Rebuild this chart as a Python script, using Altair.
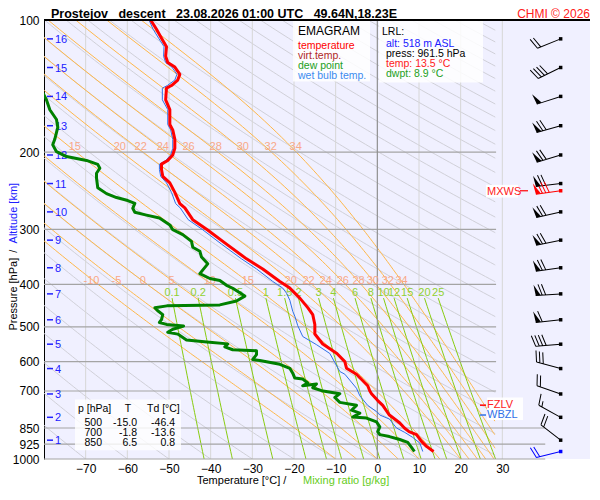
import numpy as np
import pandas as pd
import altair as alt

FONT = "Liberation Sans, Arial, Helvetica, sans-serif"
W, H = 546, 439
PAD = {"left": 36, "top": 12, "right": 1, "bottom": 29}
PXDEG = 500.0 / 120.0
TMIN = -80.0
TMAX = TMIN + W / PXDEG
TCLIP = 28.3

# ---------------- sounding ----------------
temp_p = [100, 105, 110, 115, 121, 125, 128, 133, 137, 141, 143, 152, 160, 173, 178, 187, 196, 203,
          209, 213, 219, 227, 235, 247, 262, 268, 285, 300, 324, 350, 369, 394, 408, 430, 452, 469,
          494, 519, 547, 575, 600, 621, 641, 681, 700, 710, 736, 755, 794, 828, 850, 866, 880, 912,
          936, 961.5]
temp_t = [-54.4, -53.0, -51.8, -50.6, -50.8, -50.3, -48.6, -47.4, -47.9, -49.4, -50.6, -50.8, -49.8,
          -49.8, -49.1, -48.6, -48.6, -49.1, -50.3, -51.8, -51.8, -51.5, -49.8, -48.6, -47.4, -46.2,
          -44.3, -40.9, -36.2, -31.4, -27.5, -23.4, -21.0, -18.6, -16.7, -15.5, -15.0, -15.0, -13.1,
          -9.7, -7.8, -7.4, -5.0, -2.3, -1.8, -1.4, 0.1, 1.3, 2.9, 5.4, 6.5, 7.6, 9.4, 10.6, 11.8, 13.5]

dwpt_p = [145, 152.1, 160.1, 168.5, 175.6, 186.7, 192.5, 199.5, 204.7, 208.9, 213.2, 217.6, 223.4,
          229.1, 241.1, 248.6, 253.8, 257.8, 261.7, 268.5, 274.1, 278.3, 282.6, 292.9, 300.4, 308.2,
          319.4, 329.4, 336.3, 346.7, 359.3, 378.2, 388.0, 392.0, 402.1, 408.4, 425.5, 436.5, 445.6,
          447.9, 452.4, 459.5, 469.0, 481.2, 488.6, 493.6, 498.0, 506.3, 514.2, 519.4, 535.6, 541.2,
          546.7, 555.2, 563.9, 566.7, 578.3, 593.4, 596.4, 608.6, 621.5, 637.6, 654.2, 657.6, 671.2,
          681.3, 674.6, 688.3, 698.9, 709.8, 724.4, 743.0, 754.6, 774.2, 786.2, 802.4, 806.6, 823.3,
          844.7, 866.5, 880.0, 889.1, 902.7, 916.8, 940.5, 961.5]
dwpt_t = [-80.5, -79.4, -78.6, -77.0, -76.7, -77.4, -77.9, -77.0, -74.6, -69.8, -67.1, -66.6, -67.4,
          -67.4, -67.1, -65.0, -62.6, -59.9, -58.2, -58.7, -58.2, -55.4, -52.3, -49.8, -49.1, -46.7,
          -44.6, -44.3, -42.6, -42.2, -40.7, -42.6, -40.2, -37.8, -36.2, -34.7, -31.8, -33.8, -37.8,
          -50.5, -53.4, -52.7, -51.5, -51.8, -52.3, -50.6, -46.5, -49.1, -50.3, -47.9, -45.8, -40.9,
          -35.9, -36.6, -34.7, -29.0, -29.0, -29.9, -28.2, -23.4, -21.0, -20.3, -19.8, -17.9, -16.7,
          -17.9, -14.6, -15.5, -13.4, -9.0, -10.2, -9.0, -5.0, -6.2, -4.2, -5.9, -2.6, -0.2,
          0.6, 0.1, 0.6, 2.9, 5.4, 7.3, 8.2, 8.9]

wetb_p = [100, 105, 110, 115, 121, 125, 128, 133, 137, 141, 143, 152, 160, 173, 178, 187, 196, 203,
          209, 213, 219, 227, 235, 247, 262, 268, 285, 300, 324, 350, 369, 394, 408, 419, 435, 461,
          473, 497, 526, 549, 575, 632, 641, 690, 718, 755, 780, 794, 811, 850, 870, 893, 920, 961.5]
wetb_t = [-54.8, -53.8, -52.5, -51.2, -51.3, -50.8, -49.3, -48.1, -48.6, -50.4, -51.6, -51.6, -50.3,
          -50.3, -49.6, -49.1, -49.1, -49.6, -50.8, -52.3, -52.3, -52.0, -50.6, -49.4, -48.4, -47.3,
          -45.4, -42.0, -37.4, -32.6, -29.0, -25.1, -22.7, -21.8, -21.0, -20.3, -19.8, -19.1, -17.9,
          -14.6, -11.4, -9.0, -7.8, -5.0, -4.2, -2.3, -0.2, 0.6, 2.9, 4.6, 6.6, 8.5, 10.2, 10.9]

# altitude levels [km] with their pressures, and winds there
alt_km = list(range(1, 17))
alt_p = [906.0, 803.6, 711.0, 622.3, 547.6, 481.8, 420.6, 366.8, 317.3, 273.6, 235.8, 203.0,
         174.1, 149.3, 128.3, 110.4]
wind_dir = [308, 299, 289, 285, 265, 264, 266, 262, 258, 257, 263, 253, 254, 252, 244, 248]
wind_spd = [20, 15, 20, 30, 40, 60, 70, 70, 70, 70, 70, 70, 70, 50, 40, 20]
sfc_p, sfc_dir, sfc_spd = 961.5, 256, 20
mxws_p, mxws_dir, mxws_spd = 244.9, 262, 80
fzlv_p, wbzl_p = 754.0, 794.0
BARB_T = 44.0

# ---------------- diagram reference lines ----------------
iso_t = [-70, -60, -50, -40, -30, -20, -10, 10, 20, 30]
plev = [200, 300, 400, 500, 600, 700, 850, 925, 1000]
plev_end = [28.5, 28.5, 28.5, 28.5, 28.5, 28.5, 40.3, 40.3, 40.3]
ylab = [100, 200, 300, 400, 500, 600, 700, 850, 925, 1000]
xlab = [-70, -60, -50, -40, -30, -20, -10, 0, 10, 20, 30]
theta_c = list(range(-80, 320, 10))
thetaw = [-10, -5, 0, 5, 10, 15, 20, 22, 24, 26, 28, 30, 32, 34]
mixr = [0.1, 0.2, 0.5, 1, 1.5, 2, 3, 4, 6, 8, 10, 12, 15, 20, 25]
mixr_lab = ["0.1", "0.2", "0.5", "1", "1.5", "2", "3", "4", "6", "8", "10", "12", "15", "20", "25"]
lab400 = ["-10", "-5", "0", "5", "10", "15", "20", "22", "24", "26", "28", "30", "32", "34"]
lab400_t = [-68.6, -62.6, -56.3, -49.4, -40.2, -31.1, -20.8, -16.5, -12.4, -8.3, -4.5, -1.1, 2.5, 5.8]
lab200 = ["15", "20", "22", "24", "26", "28", "30", "32", "34"]
lab200_t = [-72.6, -61.8, -56.8, -51.5, -45.3, -38.8, -32.3, -25.6, -19.6]

TITLE = "Prostejov\u00a0\u00a0\u00a0descent\u00a0\u00a0\u00a023.08.2026 01:00 UTC\u00a0\u00a0\u00a049.64N,18.23E"

# ---------------- helpers ----------------
xs = alt.Scale(domain=[TMIN, TMAX], nice=False, zero=False)
ys = alt.Scale(type="log", domain=[100, 1000], reverse=True, nice=False)
xaxis = alt.Axis(values=xlab, title=None, domain=False, ticks=False, tickSize=0, grid=False,
                 labelFontSize=12, labelPadding=4, labelColor="black", labelFont=FONT,
                 labelOverlap=False)
yaxis = alt.Axis(values=ylab, title=None, domain=True, domainColor="black", domainWidth=1,
                 ticks=False, tickSize=0, grid=False, labelFontSize=12, labelPadding=5,
                 labelColor="black", labelFont=FONT, format="d", labelOverlap=False)


def Xq(f):
    return alt.X(f, type="quantitative", scale=xs, axis=xaxis)


def Yq(f):
    return alt.Y(f, type="quantitative", scale=ys, axis=yaxis)


def py(yref):
    return (yref - 15.0) * H / 450.0


def px(xref):
    return xref - 44.0


def note(s, x, y, color="black", size=11, align="left", weight="normal", angle=0,
         baseline="middle"):
    return alt.Chart(pd.DataFrame({"s": [s]})).mark_text(
        align=align, baseline=baseline, fontSize=size, color=color, font=FONT,
        fontWeight=weight, angle=angle).encode(x=alt.value(x), y=alt.value(y), text="s:N")


def box(x1, y1, x2, y2, op=0.85):
    return alt.Chart(pd.DataFrame({"a": [0]})).mark_rect(color="white", opacity=op).encode(
        x=alt.value(x1), x2=alt.value(x2), y=alt.value(y1), y2=alt.value(y2))


def es(tc):
    return 6.112 * np.exp(17.67 * tc / (tc + 243.5))


def dTdp(tk, p):
    Rd, cp, L, eps = 287.04, 1005.7, 2.501e6, 0.622
    e = es(tk - 273.15)
    rs = eps * e / (p - e)
    return (Rd * tk + L * rs) / (p * (cp + L * L * rs * eps / (Rd * tk * tk)))


# dry adiabats
rows = []
pg = np.geomspace(100, 1000, 220)
for th in theta_c:
    thk = th + 273.15
    tt = thk * (pg / 1000.0) ** 0.2857 - 273.15
    keep = tt <= TCLIP
    pp, tk = list(pg[keep]), list(tt[keep])
    pb = 1000.0 * ((TCLIP + 273.15) / thk) ** (1 / 0.2857)
    if 100 < pb < 1000:
        pp.append(pb)
        tk.append(TCLIP)
    for a, b in sorted(zip(pp, tk)):
        rows.append((th, a, b))
df_dry = pd.DataFrame(rows, columns=["g", "p", "T"])

# pseudo-adiabats
rows = []
for tw in thetaw:
    tk, p, dp = tw + 273.15, 1000.0, -5.0
    while p > 100.0 - 1e-6:
        if tk - 273.15 <= TCLIP:
            rows.append((tw, p, tk - 273.15))
        k1 = dTdp(tk, p)
        k2 = dTdp(tk + 0.5 * dp * k1, p + 0.5 * dp)
        k3 = dTdp(tk + 0.5 * dp * k2, p + 0.5 * dp)
        k4 = dTdp(tk + dp * k3, p + dp)
        tk += dp * (k1 + 2 * k2 + 2 * k3 + k4) / 6.0
        p += dp
df_moist = pd.DataFrame(rows, columns=["g", "p", "T"])


def t_mix(w, p):
    e = w * p / (622.0 + w)
    a = np.log(e / 6.112)
    return 243.5 * a / (17.67 - a)


rows = []
for w in mixr:
    for p in np.linspace(430, 1000, 30):
        rows.append((w, p, t_mix(w, p)))
df_mix = pd.DataFrame(rows, columns=["g", "p", "T"])
df_mixlab = pd.DataFrame({"p": [419.0] * len(mixr), "T": [t_mix(w, 430.0) for w in mixr],
                          "s": mixr_lab})


def barb_paths(spd):
    n50 = spd // 50
    n10 = (spd - 50 * n50) // 10
    n5 = 1 if spd - 50 * n50 - 10 * n10 >= 5 else 0
    line, flag, pos = "M0,0L-1,0", "", -1.0
    for _ in range(n50):
        flag += f"M{pos:.3f},0L{pos - 0.06:.3f},-0.44L{pos + 0.2:.3f},0Z"
        pos += 0.26
    if n50 == 0 and n10 == 0:
        pos += 0.14
    for _ in range(n10):
        line += f"M{pos:.3f},0L{pos - 0.14:.3f},-0.44"
        pos += 0.14
    if n5:
        line += f"M{pos:.3f},0L{pos - 0.07:.3f},-0.22"
    return line, flag


brow = []
for p, d, s in zip(alt_p, wind_dir, wind_spd):
    brow.append((p, d, s, "black"))
brow.append((mxws_p, mxws_dir, mxws_spd, "#ff0000"))
brow.append((sfc_p, sfc_dir, sfc_spd, "#0000ff"))
df_barb = pd.DataFrame(brow, columns=["p", "d", "s", "col"])
df_barb["T"] = BARB_T
df_barb["rot"] = (df_barb["d"] - 270) % 360
paths = [barb_paths(int(s)) for s in df_barb["s"]]
df_barb["line"] = [a for a, b in paths]
df_barb["flag"] = [b for a, b in paths]
df_barb["hasflag"] = [1 if b else 0 for a, b in paths]

# ---------------- layers ----------------
L = []
L.append(alt.Chart(df_dry).mark_line(color="#d0d0d8", strokeWidth=1, clip=True).encode(
    x=Xq("T"), y=Yq("p"), detail="g:N", order="p:Q"))
L.append(alt.Chart(pd.DataFrame({"T": iso_t, "p1": 100, "p2": 1000})).mark_rule(
    color="#d6d6d6", strokeWidth=1).encode(x=Xq("T"), y=Yq("p1"), y2="p2"))
L.append(alt.Chart(df_moist).mark_line(color="#ffb84a", strokeWidth=1, clip=True).encode(
    x=Xq("T"), y=Yq("p"), detail="g:N", order="p:Q"))
L.append(alt.Chart(df_mix).mark_line(color="#88cc10", strokeWidth=1, clip=True).encode(
    x=Xq("T"), y=Yq("p"), detail="g:N", order="p:Q"))
L.append(alt.Chart(pd.DataFrame({"p": plev, "x1": TMIN, "x2": plev_end})).mark_rule(
    color="#a4a4a4", strokeWidth=1.2).encode(y=Yq("p"), x=Xq("x1"), x2="x2"))
L.append(alt.Chart(pd.DataFrame({"T": [0], "p1": [100], "p2": [1000]})).mark_rule(
    color="#909090", strokeWidth=1.2).encode(x=Xq("T"), y=Yq("p1"), y2="p2"))
L.append(alt.Chart(pd.DataFrame({"T": lab400_t, "p": 394.0, "s": lab400})).mark_text(
    color="#f8a888", fontSize=11, font=FONT).encode(x=Xq("T"), y=Yq("p"), text="s:N"))
L.append(alt.Chart(pd.DataFrame({"T": lab200_t, "p": 194.5, "s": lab200})).mark_text(
    color="#f8a888", fontSize=11, font=FONT).encode(x=Xq("T"), y=Yq("p"), text="s:N"))
L.append(alt.Chart(df_mixlab).mark_text(color="#90d030", fontSize=11, font=FONT).encode(
    x=Xq("T"), y=Yq("p"), text="s:N"))

# altitude markers
df_alt = pd.DataFrame({"p": alt_p, "s": [str(k) for k in alt_km]})
L.append(alt.Chart(df_alt).mark_rule(color="#2020ff", strokeWidth=1.5).encode(
    x=alt.value(3), x2=alt.value(9), y=Yq("p")))
L.append(alt.Chart(df_alt).mark_text(color="#2020ff", fontSize=11, font=FONT, align="left",
                                     dy=1).encode(x=alt.value(11), y=Yq("p"), text="s:N"))

# sounding curves
L.append(alt.Chart(pd.DataFrame({"p": wetb_p, "T": wetb_t, "i": range(len(wetb_p))})).mark_line(
    color="#3070e8", strokeWidth=1, clip=True).encode(x=Xq("T"), y=Yq("p"), order="i:Q"))
L.append(alt.Chart(pd.DataFrame({"p": dwpt_p, "T": dwpt_t, "i": range(len(dwpt_p))})).mark_line(
    color="#008000", strokeWidth=3, clip=True, strokeJoin="round").encode(
    x=Xq("T"), y=Yq("p"), order="i:Q"))
L.append(alt.Chart(pd.DataFrame({"p": temp_p, "T": temp_t, "i": range(len(temp_p))})).mark_line(
    color="#ff0000", strokeWidth=3, clip=True, strokeJoin="round").encode(
    x=Xq("T"), y=Yq("p"), order="i:Q"))

# legend box
L.append(box(px(293), py(15), px(370), py(78)))
L.append(note("EMAGRAM", px(298), py(26), size=12))
L.append(note("temperature", px(298), py(42), color="#ff0000", size=10.5))
L.append(note("virt.temp.", px(298), py(52), color="#b02828", size=10.5))
L.append(note("dew point", px(298), py(62), color="#22a022", size=10.5))
L.append(note("wet bulb temp.", px(298), py(72), color="#3c8cf0", size=10.5))
# LRL box
L.append(box(px(379), py(15), px(483), py(79)))
L.append(note("LRL:", px(382), py(27), size=10.5))
L.append(note("alt: 518 m ASL", px(386), py(40), color="#2020ff", size=10.5))
L.append(note("press: 961.5 hPa", px(386), py(50), size=10.5))
L.append(note("temp: 13.5 °C", px(386), py(60), color="#ff2020", size=10.5))
L.append(note("dwpt: 8.9 °C", px(386), py(70), color="#22a022", size=10.5))
# table box
L.append(box(px(75), py(404), px(181), py(456), op=0.8))
L.append(note("p [hPa]", px(78), py(414), size=10.5))
L.append(note("T", px(128), py(414), align="center", size=10.5))
L.append(note("Td [°C]", px(147), py(414), size=10.5))
for yy, a, b, c in [(428, "500", "-15.0", "-46.4"), (438, "700", "-1.8", "-13.6"),
                    (449, "850", "6.5", "0.8")]:
    L.append(note(a, px(102), py(yy), align="right", size=10.5))
    L.append(note(b, px(137), py(yy), align="right", size=10.5))
    L.append(note(c, px(175), py(yy), align="right", size=10.5))

# FZLV / WBZL / MXWS markers
L.append(box(px(487), py(402), px(523), py(425), op=0.9))
L.append(alt.Chart(pd.DataFrame({"p": [fzlv_p]})).mark_rule(
    color="#ff0000", strokeWidth=1.5).encode(x=alt.value(px(480)), x2=alt.value(px(486)), y=Yq("p")))
L.append(alt.Chart(pd.DataFrame({"p": [wbzl_p]})).mark_rule(
    color="#3070e8", strokeWidth=1.5).encode(x=alt.value(px(480)), x2=alt.value(px(486)), y=Yq("p")))
L.append(alt.Chart(pd.DataFrame({"p": [fzlv_p], "s": ["FZLV"]})).mark_text(
    color="#ff2020", fontSize=11, font=FONT, align="left").encode(
    x=alt.value(px(487)), y=Yq("p"), text="s:N"))
L.append(alt.Chart(pd.DataFrame({"p": [wbzl_p], "s": ["WBZL"]})).mark_text(
    color="#3070e8", fontSize=11, font=FONT, align="left").encode(
    x=alt.value(px(487)), y=Yq("p"), text="s:N"))
L.append(box(px(486), py(184), px(518), py(197), op=0.95))
L.append(alt.Chart(pd.DataFrame({"p": [mxws_p], "s": ["MXWS"]})).mark_text(
    color="#ff2020", fontSize=11, font=FONT, align="left", dy=1).encode(
    x=alt.value(px(487)), y=Yq("p"), text="s:N"))
L.append(alt.Chart(pd.DataFrame({"p": [mxws_p]})).mark_rule(
    color="#ff0000", strokeWidth=1.2).encode(x=alt.value(px(520)), x2=alt.value(px(528)), y=Yq("p")))

# wind barbs
L.append(alt.Chart(df_barb).mark_point(filled=False, opacity=1, strokeWidth=1).encode(
    x=Xq("T"), y=Yq("p"), shape=alt.Shape("line:N", scale=None),
    angle=alt.Angle("rot:Q", scale=None), color=alt.Color("col:N", scale=None),
    size=alt.value(2500)))
L.append(alt.Chart(df_barb).transform_filter("datum.hasflag == 1").mark_point(
    filled=True, opacity=1).encode(
    x=Xq("T"), y=Yq("p"), shape=alt.Shape("flag:N", scale=None),
    angle=alt.Angle("rot:Q", scale=None), color=alt.Color("col:N", scale=None),
    size=alt.value(2500)))
L.append(alt.Chart(df_barb).mark_square(opacity=1, size=12).encode(
    x=Xq("T"), y=Yq("p"), color=alt.Color("col:N", scale=None)))

# frame top line
L.append(alt.Chart(pd.DataFrame({"p": [100], "x1": [TMIN], "x2": [TMAX]})).mark_rule(
    color="black", strokeWidth=2).encode(y=Yq("p"), x=Xq("x1"), x2="x2"))

# titles
L.append(note(TITLE, px(51), -2, size=12.5, weight="bold", baseline="alphabetic"))
L.append(note("CHMI © 2026", px(590), -2, size=12, color="#ff2020", align="right",
              baseline="alphabetic"))
L.append(note("Temperature [°C]  /", px(197), H + 22, size=11))
L.append(note("Mixing ratio [g/kg]", px(303), H + 22, size=11, color="#66cc22"))
L.append(note("Pressure [hPa]", -30, py(296), size=11, angle=270, align="center"))
L.append(note("/", -30, py(252), size=11, angle=270, align="center"))
L.append(note("Altitude [km]", -30, py(213), size=11, angle=270, align="center",
              color="#2020ff"))

chart = alt.layer(*L).properties(
    width=W, height=H, autosize="none", padding=PAD,
).configure_view(fill="#f0f0ff", stroke=None)

chart.save("out.html", embed_options={"renderer": "svg", "actions": False})
